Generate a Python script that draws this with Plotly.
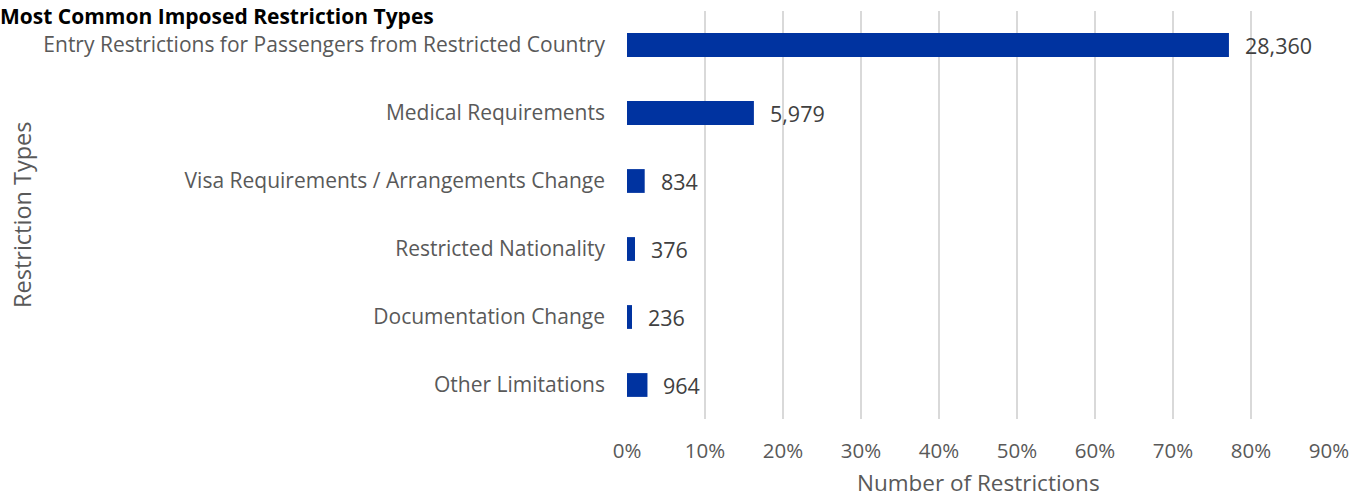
import plotly.graph_objects as go

categories = [
    "Entry Restrictions for Passengers from Restricted Country",
    "Medical Requirements",
    "Visa Requirements / Arrangements Change",
    "Restricted Nationality",
    "Documentation Change",
    "Other Limitations",
]
counts = [28360, 5979, 834, 376, 236, 964]
total = sum(counts)
shares = [c / total for c in counts]
labels = [f"{c:,}" for c in counts]
x_ticks = [i / 10 for i in range(10)]

FONT = "Open Sans"
GRAY = "#595959"
W, H = 1352, 499
ML, MR, MT, MB = 627, 23, 11, 80
PLOT_W = W - ML - MR
PLOT_H = H - MT - MB

fig = go.Figure()
fig.add_trace(go.Bar(
    y=categories, x=shares, orientation="h",
    marker=dict(color="#0033A0", line=dict(width=0)),
    width=0.35, hoverinfo="skip",
))
for cat, s, lab in zip(categories, shares, labels):
    fig.add_annotation(x=s, y=cat, text=lab, showarrow=False, xanchor="left",
                       xshift=14, font=dict(family=FONT, size=21.5, color="#404040"))

fig.add_annotation(text="Restriction Types", xref="paper", yref="paper", x=-605 / PLOT_W, y=0.5,
                   textangle=-90, showarrow=False, xanchor="center", yanchor="middle",
                   font=dict(family=FONT, size=23.5, color=GRAY))
fig.add_annotation(text="Number of Restrictions", xref="paper", yref="paper", x=0.5, y=-64 / PLOT_H,
                   showarrow=False, xanchor="center", yanchor="middle",
                   font=dict(family=FONT, size=22.5, color=GRAY))
fig.add_annotation(text="<b>Most Common Imposed Restriction Types</b>", xref="paper", yref="paper",
                   x=-(ML + 2) / PLOT_W, y=1 + MT / PLOT_H, xanchor="left", yanchor="top",
                   showarrow=False, font=dict(family=FONT, size=21, color="black"))

fig.update_layout(
    width=W, height=H,
    margin=dict(l=ML, r=MR, t=MT, b=MB),
    paper_bgcolor="white", plot_bgcolor="white",
    showlegend=False,
    xaxis=dict(range=[0, 0.9], tickvals=x_ticks + [0.9], tickformat=".0%",
               showgrid=True, gridcolor="#D9D9D9", gridwidth=1.5, zeroline=False,
               showline=False, ticks="", automargin=False,
               tickfont=dict(family=FONT, size=20.5, color=GRAY), ticklabelstandoff=17),
    yaxis=dict(categoryorder="array", categoryarray=categories, autorange="reversed",
               showgrid=False, showline=False, ticks="", ticklabelstandoff=21, automargin=False,
               tickfont=dict(family=FONT, size=21, color=GRAY)),
)
fig.write_html("out.html", config={"displayModeBar": False},
               post_script="document.body.style.margin='0';")
